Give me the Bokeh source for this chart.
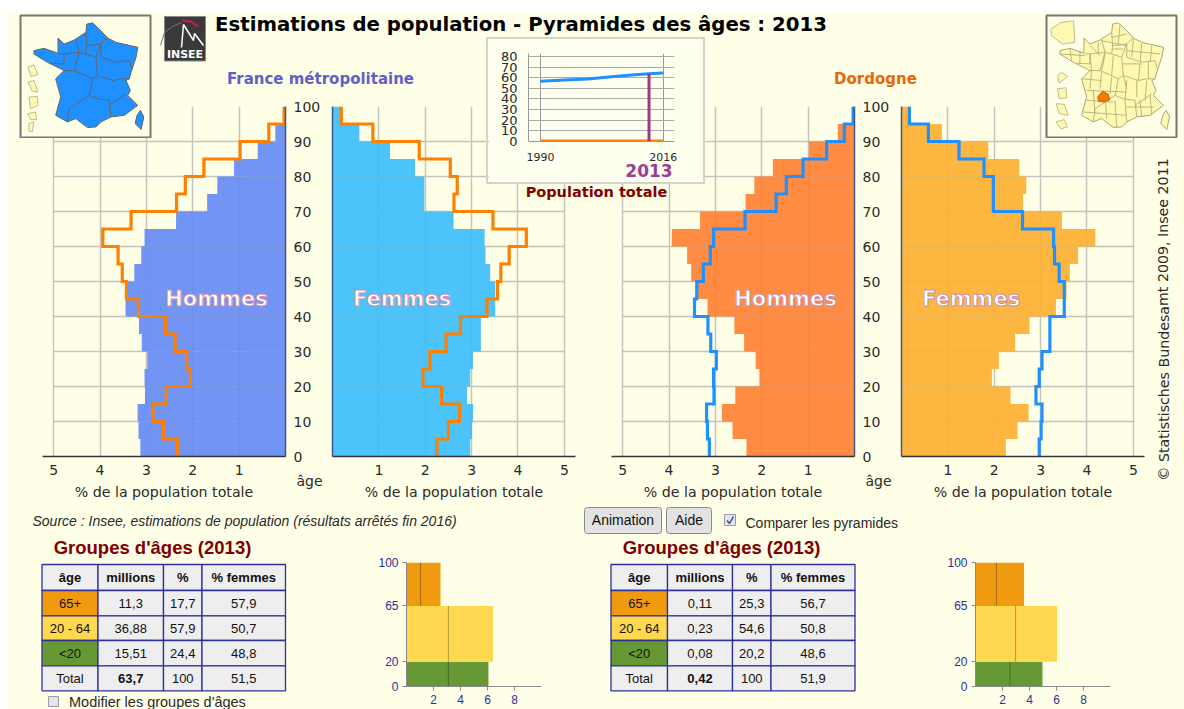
from bokeh.plotting import figure
from bokeh.layouts import column
from bokeh.models import Range1d, FixedTicker
from bokeh.core.properties import value
from bokeh.embed import file_html
from bokeh.resources import INLINE

# ---------- data ----------
age_edges = [0,5,10,15,20,25,30,35,40,45,50,55,60,65,70,75,80,85,90,95,100]
fr_h = [3.13,3.17,3.19,3.03,3.04,2.98,3.10,3.16,3.45,3.40,3.26,3.11,3.04,2.36,1.69,1.47,1.11,0.60,0.22,0.03]
fr_f = [2.97,3.01,3.03,2.90,2.97,3.03,3.20,3.20,3.51,3.51,3.40,3.30,3.28,2.61,1.98,1.98,1.78,1.24,0.58,0.17]
dd_h = [2.33,2.63,2.86,2.57,2.05,2.13,2.38,2.59,3.17,3.43,3.52,3.61,3.94,3.33,2.35,2.16,1.76,0.98,0.36,0.03]
dd_f = [2.25,2.50,2.74,2.35,1.95,2.10,2.45,2.76,3.33,3.56,3.63,3.81,4.18,3.46,2.62,2.69,2.54,1.87,0.87,0.19]

pop_years = [1990,1995,2000,2005,2010,2013,2016]
pop_fr = [56.6,57.8,58.8,61.0,62.8,63.7,64.5]
pop_dd = [0.39,0.39,0.39,0.40,0.41,0.42,0.42]
sel_year = [2013]
sel_pop = [63.7]

mini_edges = [0,20,65,100]
mini_fr = [6.07,6.41,2.52]
mini_fr_mark = [3.10,3.10,1.04]
mini_dd = [4.96,6.04,3.60]
mini_dd_mark = [2.55,2.97,1.55]
mini_colors = ["#669933","#FFD850","#F09A10"]

tab_head = ["âge","millions","%","% femmes"]
tab_rows = ["65+","20 - 64","<20","Total"]
tab_colors = ["#F09A10","#FFD850","#669933","#EEEEEE"]
tab_fr = [["11,3","17,7","57,9"],["36,88","57,9","50,7"],["15,51","24,4","48,8"],["63,7","100","51,5"]]
tab_dd = [["0,11","25,3","56,7"],["0,23","54,6","50,8"],["0,08","20,2","48,6"],["0,42","100","51,9"]]

# map outline, in the 3x coordinates of the inset map
france = [(100,150),(130,143),(172,158),(172,112),(190,130),(220,118),(255,95),(258,70),(275,66),(300,90),
          (320,112),(345,125),(410,140),(405,170),(390,215),(385,235),(375,240),(388,270),(380,285),(410,315),
          (370,345),(330,350),(300,365),(285,380),(260,382),(225,355),(200,365),(165,345),(180,290),(165,235),
          (190,210),(140,185),(100,160)]
corsica = [(418,330),(428,350),(420,388),(402,370),(408,345)]
regions = [[(255,95),(258,135),(300,130),(320,110)],[(258,135),(255,160),(285,170),(300,130)],
           [(300,130),(300,170),(345,185),(385,180),(392,205)],[(285,170),(290,225),(335,240),(360,235),(385,235)],
           [(175,160),(190,160),(235,155),(255,160)],[(235,155),(225,118)],[(190,160),(190,190),(150,188)],
           [(235,155),(220,210),(190,210)],[(220,210),(275,235),(290,225)],[(275,235),(265,285),(205,325),(200,365)],
           [(265,285),(290,295),(325,300),(330,350)],[(325,315),(375,280)]]
depts = [[(255,110),(300,100)],[(225,120),(300,135)],[(190,135),(220,165)],[(215,125),(215,160)],[(280,70),(275,130)],
         [(320,115),(315,170)],[(345,130),(340,185)],[(375,135),(370,185)],[(300,150),(400,160)],[(255,145),(290,145)],
         [(130,145),(135,180)],[(160,150),(160,190)],[(100,160),(175,165)],[(190,160),(195,210)],[(235,160),(225,210)],
         [(260,165),(255,225)],[(290,190),(345,190)],[(340,190),(335,240)],[(365,185),(365,235)],[(290,225),(300,265)],
         [(165,235),(225,240)],[(195,210),(190,265)],[(225,215),(220,265)],[(255,230),(250,280)],[(300,240),(295,300)],
         [(330,240),(330,290)],[(360,240),(355,300)],[(180,270),(300,275)],[(180,300),(260,305)],[(200,270),(205,340)],
         [(235,280),(240,355)],[(265,300),(270,380)],[(295,300),(300,365)],[(300,320),(380,320)],[(340,300),(345,350)],
         [(370,285),(375,345)],[(170,335),(300,345)]]
overseas_l = [[(82,200),(100,193),(112,222),(92,228)],[(82,245),(100,240),(112,275),(95,272)],
              [(85,290),(110,288),(112,315),(90,325)],[(82,340),(105,335),(108,358),(90,358)],[(85,370),(100,365),(95,395),(85,392)]]
overseas_r = [[(60,85),(90,65),(128,60),(132,125),(95,130),(62,105)],[(80,225),(92,215),(110,228),(85,248)],
              [(80,265),(105,262),(108,292),(85,295)],[(76,310),(100,312),(112,345),(85,340)],[(76,365),(100,358),(110,380),(90,386)]]
dordogne_blob = [(200,290),(215,272),(232,282),(236,298),(218,305),(203,302)]

# ---------- helpers ----------
SANS = value("DejaVu Sans")
ARIAL = value("Liberation Sans")
BG = "#FFFFE8"
GRID = "#C4C4BC"
TXT = "#2A2A2A"
LB = 40   # the left border every figure gets here

def place(fig, frame_left, frame_top, top_border=0):
    fig.styles = {"position": "absolute", "left": f"{frame_left-LB}px", "top": f"{frame_top-top_border}px",
                  "max-width": "none", "max-height": "none"}
    return fig

def pyramid(fill, edge, ref, ref_color, word, word_x, frame_l, frame_r, right_side):
    R = 46 if right_side else 4
    T = 12
    span = 5.24
    xr = Range1d(span, 0) if right_side else Range1d(0, span)
    fw = frame_r-frame_l
    p = figure(width=LB+fw+R, height=T+350+50, frame_width=fw, frame_height=350, x_range=xr, y_range=Range1d(0,100),
               min_border_left=LB, min_border_right=R, min_border_top=T, min_border_bottom=50,
               toolbar_location=None, output_backend="svg", background_fill_alpha=0, border_fill_alpha=0,
               outline_line_color=None, y_axis_location="right" if right_side else "left")
    p.quad(left=0, right=fill, bottom=age_edges[:-1], top=age_edges[1:], fill_color=edge, fill_alpha=0.9, line_color=None)
    xs, ys = [], []
    for i, v in enumerate(ref):
        xs += [v, v]
        ys += [age_edges[i], age_edges[i+1]]
    p.line(xs, ys, line_color=ref_color, line_width=3.2, line_join="miter")
    p.text([word_x], [45.0], text=[word], text_font=SANS, text_font_size="21px", text_font_style="bold", text_color="#FFFFFF",
           text_align="center", text_baseline="middle", text_outline_color="#C890B0")
    xa, ya = p.xaxis[0], p.yaxis[0]
    xa.ticker = FixedTicker(ticks=[1,2,3,4,5])
    xa.axis_label = "% de la population totale"
    xa.axis_label_text_font = "DejaVu Sans"
    xa.axis_label_text_font_size = "14.2px"
    xa.axis_label_text_font_style = "normal"
    xa.axis_label_text_color = TXT
    xa.axis_label_standoff = 6
    xa.major_label_text_font = "DejaVu Sans"
    xa.major_label_text_font_size = "14px"
    xa.major_label_text_color = TXT
    xa.major_label_standoff = 2
    xa.major_tick_line_color = None
    xa.minor_tick_line_color = None
    xa.axis_line_color = "#333333"
    xa.axis_line_width = 1.5
    ya.ticker = FixedTicker(ticks=[0,10,20,30,40,50,60,70,80,90,100] if right_side else [])
    ya.major_label_text_font = "DejaVu Sans"
    ya.major_label_text_font_size = "14px"
    ya.major_label_text_color = TXT
    ya.major_label_text_align = "center"
    ya.major_label_standoff = 2
    ya.major_tick_line_color = None
    ya.minor_tick_line_color = None
    ya.axis_line_color = "#44558A"
    ya.axis_line_width = 1.5
    p.xgrid.ticker = FixedTicker(ticks=[1,2,3,4,5])
    p.ygrid.ticker = FixedTicker(ticks=[10,20,30,40,50,60,70,80,90,100])
    for g in (p.xgrid[0], p.ygrid[0]):
        g.grid_line_color = GRID
        g.grid_line_width = 1.5
    if hasattr(p.ygrid[0], "cross_bounds"):
        p.ygrid[0].cross_bounds = (0, 5)
    place(p, frame_l, 106, T)
    return p

def minibar(vals, marks, frame_l):
    B, T = 22, 8
    p = figure(width=LB+135+3, height=T+124+B, frame_width=135, frame_height=124, x_range=Range1d(0,10), y_range=Range1d(0,100),
               min_border_left=LB, min_border_right=3, min_border_top=T, min_border_bottom=B,
               toolbar_location=None, output_backend="svg", background_fill_alpha=0, border_fill_alpha=0,
               outline_line_color=None)
    p.quad(left=0, right=vals, bottom=mini_edges[:-1], top=mini_edges[1:], fill_color=mini_colors, line_color=None)
    p.segment(x0=marks, x1=marks, y0=mini_edges[:-1], y1=mini_edges[1:], line_color="#000000", line_alpha=0.3, line_width=1)
    p.grid.visible = False
    xa, ya = p.xaxis[0], p.yaxis[0]
    xa.ticker = FixedTicker(ticks=[2,4,6,8])
    ya.ticker = FixedTicker(ticks=[0,20,65,100])
    for a in (xa, ya):
        a.major_label_text_font = "Liberation Sans"
        a.major_label_text_font_size = "12px"
        a.major_label_text_color = "#2E2E9A"
        a.axis_line_color = "#888888"
        a.major_tick_line_color = "#888888"
        a.major_tick_out = 4
        a.major_tick_in = 0
        a.minor_tick_line_color = None
        a.major_label_standoff = 4
    place(p, frame_l, 562, T)
    return p

def mapbox(left, right, xs_range, outline_dx, fill, lines, line_color, line_w, overseas, blob):
    p = figure(width=LB+(right-left)+2, height=124, frame_width=right-left, frame_height=122, x_range=Range1d(*xs_range), y_range=Range1d(412,44),
               min_border_left=LB, min_border_right=2, min_border_top=1, min_border_bottom=1,
               toolbar_location=None, output_backend="svg",
               x_axis_location=None, y_axis_location=None, background_fill_color=BG, border_fill_alpha=0,
               outline_line_color="#777770", outline_line_width=2)
    p.grid.visible = False
    for poly in (france, corsica):
        p.patch([a-outline_dx for a,_ in poly], [b for _,b in poly], fill_color=fill, line_color=line_color, line_width=1)
    for ln in lines:
        p.line([a-outline_dx for a,_ in ln], [b for _,b in ln], line_color=line_color, line_width=line_w)
    for poly in overseas:
        p.patch([a for a,_ in poly], [b for _,b in poly], fill_color="#FFF8B0", line_color="#BDBD90", line_width=1)
    if blob:
        p.patch([a for a,_ in blob], [b for _,b in blob], fill_color="#F57A00", line_color="#C86000", line_width=1)
    place(p, left, 15, 1)
    return p

def label(p, x, y, s, size, color=TXT, font=SANS, style="normal", align="center", angle=0):
    p.text([x],[y],text=[s],text_font=font,text_font_size=f"{size}px",text_color=color,text_font_style=style,
           text_align=align,text_baseline="middle",angle=angle)

# ---------- background layer, in page pixels ----------
bg = figure(width=LB+1178, height=697, frame_width=1178, frame_height=697, x_range=Range1d(6,1184), y_range=Range1d(709,12),
            min_border_left=LB, min_border_right=0, min_border_top=0, min_border_bottom=0,
            toolbar_location=None, output_backend="svg", x_axis_location=None, y_axis_location=None,
            background_fill_color=BG, border_fill_alpha=0, outline_line_color=None)
bg.grid.visible = False
place(bg, 6, 12)

label(bg, 520.5, 24, "Estimations de population - Pyramides des âges : 2013", 19.7, "#000000", style="bold")
label(bg, 320, 78, "France métropolitaine", 15, "#6060C8", style="bold")
label(bg, 875, 78, "Dordogne", 15, "#E8660C", style="bold")
label(bg, 309, 480, "âge", 14)
label(bg, 878, 480, "âge", 14)
label(bg, 1163, 319, "© Statistisches Bundesamt 2009, Insee 2011", 14.2, angle=1.5708)
label(bg, 32, 520, "Source : Insee, estimations de population (résultats arrêtés fin 2016)", 14, font=ARIAL, style="italic", align="left")
label(bg, 152, 547, "Groupes d'âges (2013)", 18.5, "#800000", font=ARIAL, style="bold")
label(bg, 721, 547, "Groupes d'âges (2013)", 18.5, "#800000", font=ARIAL, style="bold")
label(bg, 745, 522, "Comparer les pyramides", 14, font=ARIAL, align="left")
label(bg, 68.5, 701, "Modifier les groupes d'âges", 14.5, font=ARIAL, align="left")

# logo
bg.quad(left=[164],right=[205],top=[16],bottom=[60.5],fill_color="#3A3A3A",line_color="#888888")
bg.line([181,183,193,194,203],[47,24,40,33,45],line_color="#FFFFFF",line_width=1.5)
bg.line([160,164,172,181],[45,32,26,22],line_color="#777777",line_width=1)
bg.line([182,190,198],[20,21,26],line_color="#E0104C",line_width=2)
label(bg, 184.5, 54, "INSEE", 11, "#FFFFFF", style="bold")

# buttons & check boxes
bg.quad(left=[584,666],right=[661,711],top=[507,507],bottom=[533,533],fill_color="#E2E2E2",line_color="#8A8A8A",border_radius=3)
label(bg, 622.5, 519, "Animation", 14, "#111111", font=ARIAL)
label(bg, 688.5, 519, "Aide", 14, "#111111", font=ARIAL)
bg.quad(left=[724,48],right=[735,58],top=[514,696],bottom=[525,706],fill_color="#E4E4EC",line_color="#9A9AA8")
bg.line([726.5,729,733],[520,523,516],line_color="#3050A8",line_width=1.5)

# tables
def table(xs, rows):
    ys = [564,590,615.3,640,665.3,690.3]
    for c in range(4):
        for r in range(5):
            col = "#EEEEEE"
            if r > 0 and c == 0:
                col = tab_colors[r-1]
            bg.quad(left=[xs[c]],right=[xs[c+1]],top=[ys[r]],bottom=[ys[r+1]],fill_color=col,line_color="#30309A",line_width=1.3)
            cx, cy = (xs[c]+xs[c+1])/2, (ys[r]+ys[r+1])/2
            if r == 0:
                s, st = tab_head[c], "bold"
            elif c == 0:
                s, st = tab_rows[r-1], "normal"
            else:
                s = rows[r-1][c-1]
                st = "bold" if r == 4 and c == 1 else "normal"
            label(bg, cx, cy, s, 13, "#111111", font=ARIAL, style=st)
table([41.5,97.5,163,201.5,285], tab_fr)
table([610.5,667,732,770.5,854.5], tab_dd)

# ---------- pyramids ----------
p1 = pyramid(fr_h, "#638AF6", dd_h, "#FF8000", "Hommes", 1.49, 42, 285, True)
p2 = pyramid(fr_f, "#38BCFC", dd_f, "#FF8000", "Femmes", 1.50, 332, 575, False)
p3 = pyramid(dd_h, "#FF7F30", fr_h, "#1E90FF", "Hommes", 1.49, 611, 854, True)
p4 = pyramid(dd_f, "#FDAF2E", fr_f, "#1E90FF", "Femmes", 1.50, 901, 1144, False)

# ---------- small charts ----------
m1 = minibar(mini_fr, mini_fr_mark, 406)
m2 = minibar(mini_dd, mini_dd_mark, 975)
map1 = mapbox(20, 150, (60,448), 0, "#1E90FF", regions, "#666666", 1, overseas_l, None)
map2 = mapbox(1046, 1176, (47,436), 13, "#FFF8B0", regions+depts, "#A8A878", 0.8, overseas_r, dordogne_blob)

ins = figure(width=215, height=143, frame_width=146, frame_height=88, x_range=Range1d(1987.45,2018.4), y_range=Range1d(0,82.8),
             min_border_left=LB, min_border_right=29, min_border_top=14, min_border_bottom=41,
             toolbar_location=None, output_backend="svg", background_fill_color="#FFFFF0", border_fill_color="#FFFFF0",
             outline_line_color=None)
ins.line(pop_years, pop_fr, line_color="#1E90FF", line_width=3)
ins.line(pop_years, pop_dd, line_color="#FF8000", line_width=3)
ins.segment(x0=sel_year, x1=sel_year, y0=[0], y1=sel_pop, line_color="#A03A80", line_width=3)
ins.text(x=sel_year, y=[-27.3], text=["2013"], text_font=SANS, text_font_size="17px", text_font_style="bold",
         text_color="#9C3E92", text_align="center", text_baseline="middle", level="overlay")
xa, ya = ins.xaxis[0], ins.yaxis[0]
xa.ticker = FixedTicker(ticks=[1990,2016])
ya.ticker = FixedTicker(ticks=[0,10,20,30,40,50,60,70,80])
for a, sz in ((xa,"11px"),(ya,"13px")):
    a.major_label_text_font = "DejaVu Sans"
    a.major_label_text_font_size = sz
    a.major_label_text_color = TXT
    a.major_tick_line_color = None
    a.minor_tick_line_color = None
    a.axis_line_color = "#999999"
    a.major_label_standoff = 5
ins.xgrid.grid_line_color = "#999999"
ins.ygrid.grid_line_color = "#AAAAAA"
ins.ygrid.grid_line_width = 1
place(ins, 528, 53, 14)
ins.styles = dict(ins.styles, outline="2px solid #D4D4CC")

pt = figure(width=LB+180, height=22, frame_width=180, frame_height=22, x_range=Range1d(506,686), y_range=Range1d(202,180),
            min_border_left=LB, min_border_right=0, min_border_top=0, min_border_bottom=0,
            toolbar_location=None, output_backend="svg", x_axis_location=None, y_axis_location=None,
            background_fill_alpha=0, border_fill_alpha=0, outline_line_color=None)
pt.grid.visible = False
label(pt, 596, 191, "Population totale", 14.5, "#800000", style="bold")
place(pt, 506, 180)

root = column(bg, p1, p2, p3, p4, m1, m2, map1, map2, ins, pt, width=1168, height=693)
open("out.html", "w").write(file_html(root, INLINE))
